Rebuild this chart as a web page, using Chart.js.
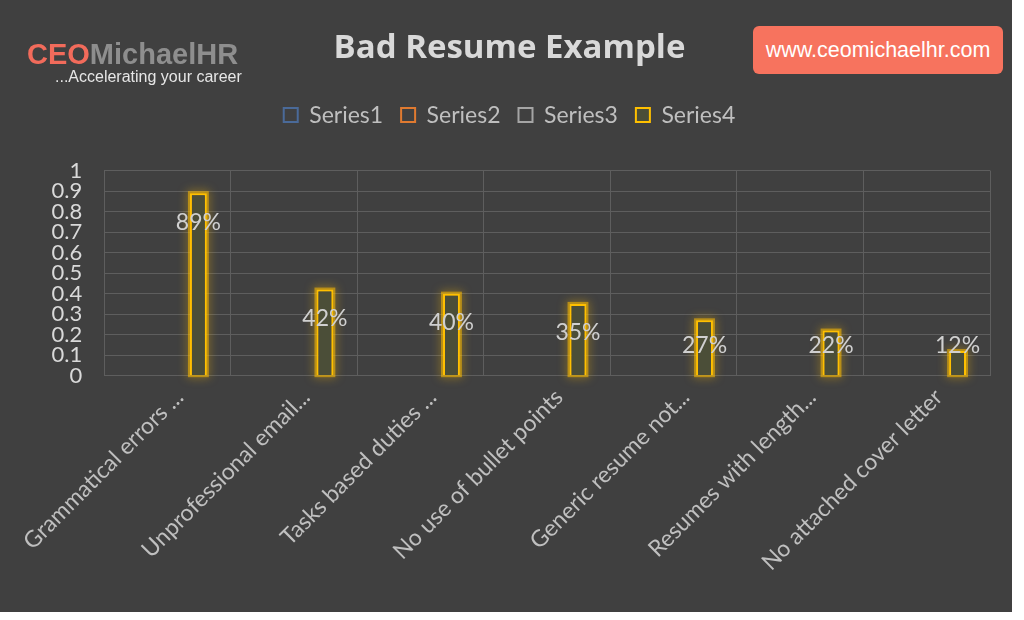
<!DOCTYPE html>
<html>
<head>
<meta charset="utf-8">
<script src="https://cdn.jsdelivr.net/npm/chart.js@4.4.1/dist/chart.umd.min.js"></script>
<style>
    body { margin: 0; background: #ffffff; }
    #board { position: absolute; left: 0; top: 0; width: 1012px; height: 612px; background: #404040; }
    #logo { position: absolute; left: 27px; top: 39px; font-family: "Liberation Sans", Arial, sans-serif; }
    #logo .big { font-size: 29px; font-weight: bold; line-height: 30px; }
    #logo .ceo { color: #f26b5b; }
    #logo .mhr { color: #8e8e8e; }
    #logo .tag { color: #e6e6e6; font-size: 16px; margin-left: 28px; line-height: 16px; }
    #url { position: absolute; left: 753px; top: 26px; width: 250px; height: 48px; background: #f7735e;
           border-radius: 6px; color: #ffffff; font-family: "Liberation Sans", Arial, sans-serif;
           font-size: 21.5px; line-height: 48px; text-align: center; }
</style>
</head>
<body>
<div id="board">
    <canvas id="chart" width="1012" height="612"></canvas>
</div>
<div id="logo">
    <div class="big"><span class="ceo">CEO</span><span class="mhr">MichaelHR</span></div>
    <div class="tag">...Accelerating your career</div>
</div>
<div id="url">www.ceomichaelhr.com</div>

<script>
var categories = [
    'Grammatical errors ...',
    'Unprofessional email...',
    'Tasks based duties ...',
    'No use of bullet points',
    'Generic resume not...',
    'Resumes with length...',
    'No attached cover letter'
]
var series1 = [null, null, null, null, null, null, null]
var series2 = [null, null, null, null, null, null, null]
var series3 = [null, null, null, null, null, null, null]
var series4 = [0.89, 0.42, 0.40, 0.35, 0.27, 0.22, 0.12]
var yTicks = [0, 0.1, 0.2, 0.3, 0.4, 0.5, 0.6, 0.7, 0.8, 0.9, 1]

var textFont = 'Lato, "Open Sans", sans-serif'

// glow round the yellow bars, drawn under them from the bar elements
var glowPlugin = {
    id: 'glow',
    beforeDatasetDraw: function(chart, args){
        if(args.index != 3) return
        var ctx = chart.ctx
        ctx.save()
        ctx.shadowColor = 'rgba(255,190,0,1)'
        ctx.shadowBlur = 10
        ctx.strokeStyle = 'rgba(255,190,0,0.55)'
        ctx.lineWidth = 4
        args.meta.data.forEach(function(bar){
            ctx.strokeRect(bar.x - bar.width / 2, bar.y, bar.width, bar.base - bar.y)
        })
        ctx.restore()
    }
}

// percent labels near the top of each bar
var labelPlugin = {
    id: 'barLabels',
    afterDatasetsDraw: function(chart){
        var ctx = chart.ctx
        var meta = chart.getDatasetMeta(3)
        ctx.save()
        ctx.font = '23px ' + textFont
        ctx.fillStyle = '#d0d0d0'
        ctx.textAlign = 'center'
        ctx.textBaseline = 'middle'
        meta.data.forEach(function(bar, i){
            var y = Math.min(bar.y + 29, bar.base - 30)
            ctx.fillText(Math.round(series4[i] * 100) + '%', bar.x, y)
        })
        ctx.restore()
    }
}

// extra room under the legend
var legendSpace = {
    id: 'legendSpace',
    beforeInit: function(chart){
        var fit = chart.legend.fit
        chart.legend.fit = function(){
            fit.bind(chart.legend)()
            this.height += 34
        }
    }
}

var ctx = document.getElementById('chart')
var myChart = new Chart(ctx, {
    type: 'bar',
    data: {
        labels: categories,
        datasets: [
            { label: 'Series1', data: series1, backgroundColor: '#404040', borderColor: '#4a6a99', borderWidth: 2 },
            { label: 'Series2', data: series2, backgroundColor: '#404040', borderColor: '#e07a30', borderWidth: 2 },
            { label: 'Series3', data: series3, backgroundColor: '#404040', borderColor: '#a5a5a5', borderWidth: 2 },
            { label: 'Series4', data: series4, backgroundColor: '#4b4e38', borderColor: '#ffc000', borderWidth: 2 }
        ]
    },
    options: {
        responsive: false,
        animation: false,
        categoryPercentage: 0.65,
        barPercentage: 0.82,
        layout: { padding: { top: 29, left: 29, right: 22, bottom: 28 } },
        plugins: {
            tooltip: { enabled: false },
            title: {
                display: true,
                text: 'Bad Resume Example',
                color: '#d9d9d9',
                font: { family: '"Open Sans", sans-serif', size: 33, weight: 'bold' },
                padding: { top: 0, bottom: 17 }
            },
            legend: {
                position: 'top',
                labels: {
                    color: '#bfbfbf',
                    boxWidth: 14,
                    boxHeight: 14,
                    padding: 18,
                    font: { family: textFont, size: 23 }
                }
            }
        },
        scales: {
            x: {
                grid: { color: '#5e5e5e', drawTicks: false },
                border: { color: '#5e5e5e' },
                ticks: {
                    color: '#bfbfbf',
                    font: { family: textFont, size: 23 },
                    minRotation: 45,
                    maxRotation: 45,
                    autoSkip: false,
                    labelOffset: 12,
                    padding: 8
                }
            },
            y: {
                min: 0,
                max: 1,
                grid: { color: '#5e5e5e', drawTicks: false },
                border: { display: false },
                afterBuildTicks: function(axis){
                    axis.ticks = yTicks.map(function(v){ return { value: v } })
                },
                ticks: {
                    color: '#d9d9d9',
                    font: { family: textFont, size: 22 },
                    autoSkip: false,
                    padding: 22,
                    callback: function(v){ return String(Math.round(v * 10) / 10) }
                }
            }
        }
    },
    plugins: [glowPlugin, labelPlugin, legendSpace]
})
</script>
</body>
</html>
